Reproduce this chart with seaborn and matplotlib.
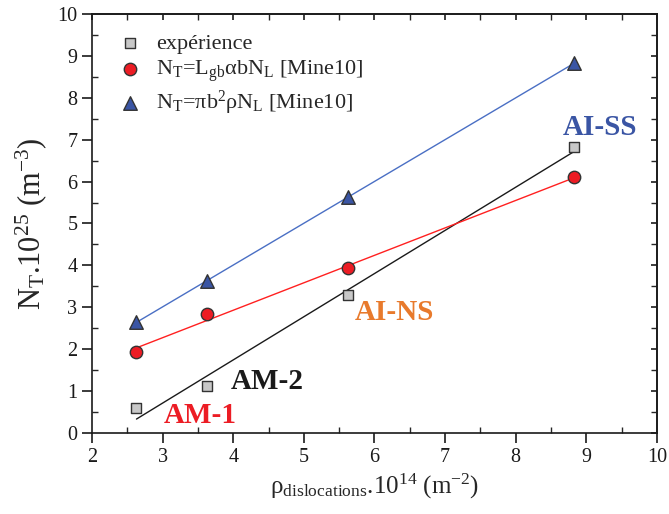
import matplotlib
matplotlib.use("Agg")
import matplotlib.pyplot as plt
from matplotlib.ticker import MultipleLocator
import seaborn as sns
import pandas as pd

# densities (x 1e14 m^-2) for AM-1, AM-2, AI-NS, AI-SS
rho = [2.63, 3.63, 5.63, 8.83]
experience = [0.60, 1.12, 3.30, 6.82]
nt_lgb = [1.93, 2.85, 3.93, 6.10]
nt_pib2 = [2.65, 3.63, 5.63, 8.83]

sample_names = ["AM-1", "AM-2", "AI-NS", "AI-SS"]
sample_colors = ["#EC1C24", "#1A1A1A", "#E87A2C", "#3A55A4"]
sample_pos = [(3.02, 0.42), (3.97, 1.22), (5.72, 2.88), (8.67, 7.28)]

sns.set_theme(style="ticks")
plt.rcParams["font.family"] = ["Liberation Serif", "DejaVu Serif"]
plt.rcParams["mathtext.default"] = "regular"

df = pd.DataFrame({"rho": rho, "exp": experience, "lgb": nt_lgb, "pib2": nt_pib2})

fig = plt.figure(figsize=(6.69, 5.14), dpi=100)
ax = fig.add_axes([0.1375, 0.1576, 0.8445, 0.8152])

series = [
    ("exp", "expérience", "s", "#C8C8C8", "#1A1A1A", 52),
    ("lgb", r"N$_T$=L$_{gb}$αbN$_L$ [Mine10]", "o", "#EC1C24", "#FF2020", 80),
    ("pib2", r"N$_T$=πb$^2$ρN$_L$ [Mine10]", "^", "#3A55A4", "#4A6FC4", 95),
]

for col, label, marker, fill, line_color, size in series:
    sns.regplot(data=df, x="rho", y=col, ax=ax, scatter=False, ci=None,
                truncate=True, line_kws={"color": line_color, "lw": 1.0})
for col, label, marker, fill, line_color, size in series:
    sns.scatterplot(data=df, x="rho", y=col, ax=ax, marker=marker, s=size,
                    color=fill, edgecolor="#333333", linewidth=1.0,
                    label=label, zorder=5)

for name, c, (tx, ty) in zip(sample_names, sample_colors, sample_pos):
    ax.text(tx, ty, name, color=c, fontsize=21, fontweight="bold",
            ha="left", va="center")

ax.set_xlim(2, 10)
ax.set_ylim(0, 10)
ax.xaxis.set_major_locator(MultipleLocator(1))
ax.xaxis.set_minor_locator(MultipleLocator(0.5))
ax.yaxis.set_major_locator(MultipleLocator(1))
ax.yaxis.set_minor_locator(MultipleLocator(0.5))
ax.tick_params(which="major", direction="out", length=7, width=1.2,
               labelsize=14.5, colors="#1A1A1A")
ax.tick_params(which="minor", direction="in", length=4, width=1.0)

for spine in ax.spines.values():
    spine.set_visible(True)
    spine.set_linewidth(1.2)
    spine.set_color("#1A1A1A")

top = ax.secondary_xaxis("top")
top.xaxis.set_major_locator(MultipleLocator(1))
top.xaxis.set_minor_locator(MultipleLocator(0.5))
top.tick_params(which="both", direction="in", length=4, labeltop=False)
right = ax.secondary_yaxis("right")
right.yaxis.set_major_locator(MultipleLocator(1))
right.yaxis.set_minor_locator(MultipleLocator(0.5))
right.tick_params(which="both", direction="in", length=4, labelright=False)

ax.set_xlabel(r"ρ$_{dislocations}$.10$^{14}$ (m$^{-2}$)", fontsize=18)
ax.set_ylabel(r"N$_T$.10$^{25}$ (m$^{-3}$)", fontsize=22, labelpad=6)

ax.legend(loc="upper left", frameon=False, fontsize=16, handletextpad=0.2,
          borderaxespad=0.3, labelspacing=0.2, bbox_to_anchor=(0.0, 0.99))

fig.savefig("out.png", dpi=100)
